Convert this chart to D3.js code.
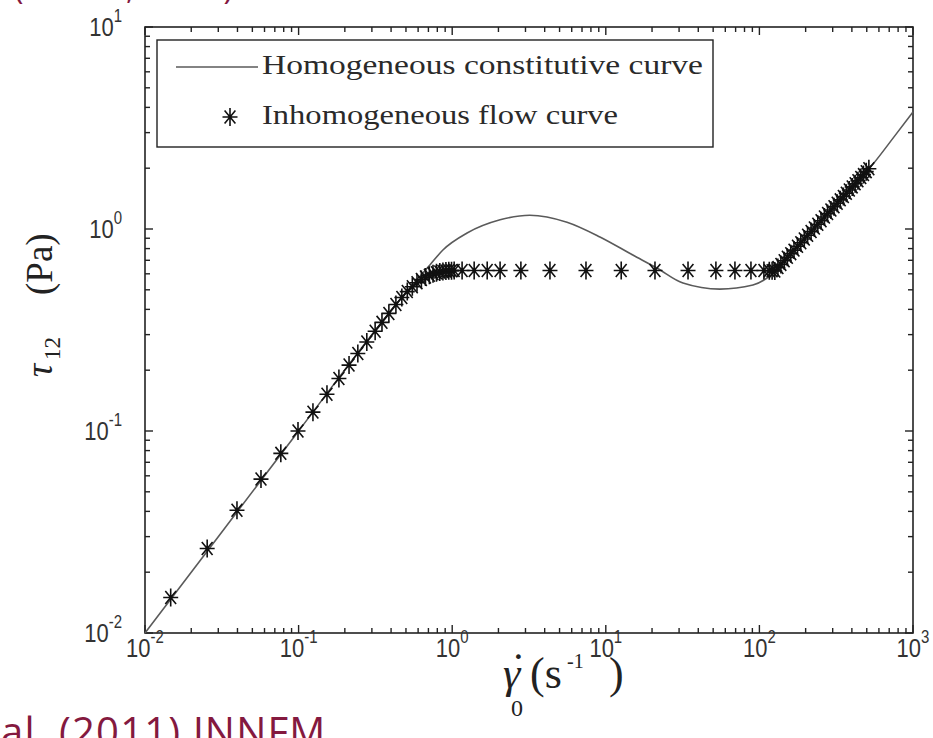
<!DOCTYPE html>
<html>
<head>
<meta charset="utf-8">
<script src="https://cdn.jsdelivr.net/npm/d3@7"></script>
<style>
  body { margin: 0; background: #fff; }
  svg { display: block; }
</style>
</head>
<body>
<svg id="chart" width="933" height="738"></svg>
<script>
// ---- data -------------------------------------------------------------
const xExponents = [-2, -1, 0, 1, 2, 3];
const yExponents = [-2, -1, 0, 1];

// homogeneous constitutive curve (shear rate, shear stress)
const curveRate   = [0.01, 0.1, 0.3, 0.4, 0.5, 0.716, 0.87, 1.25, 2.05, 3.2, 5.59, 9.16, 15.0, 21.5, 31.8, 55.3, 90.8, 122.7, 150, 200, 300, 400, 550, 750, 1000];
const curveStress = [0.01, 0.1, 0.3, 0.395, 0.485, 0.664, 0.787, 0.955, 1.11, 1.17, 1.08, 0.913, 0.743, 0.641, 0.54, 0.504, 0.528, 0.605, 0.715, 0.905, 1.27, 1.61, 2.10, 2.85, 3.8];

// inhomogeneous (banded) flow curve
const flowRate = [
  0.0147, 0.0254, 0.0397, 0.0569, 0.0766, 0.0991, 0.124, 0.153, 0.183, 0.213,
  0.243, 0.278, 0.315, 0.349, 0.387, 0.43, 0.47, 0.51, 0.55, 0.59,
  0.63, 0.67, 0.71, 0.75, 0.79, 0.83, 0.87, 0.91, 0.95, 0.99,
  1.03, 1.16, 1.39, 1.69, 2.05, 2.8, 4.33, 7.43, 12.6, 20.9,
  34.3, 52.1, 69.3, 88.1, 107, 116, 121,
  126, 132, 138, 145, 152, 160, 168, 177, 186, 196,
  206, 217, 228, 240, 252, 265, 278, 292, 306, 321,
  336, 352, 368, 385, 402, 420, 438, 457, 476, 496, 516
];
const flowStress = [
  0.0150, 0.0262, 0.0405, 0.0578, 0.0775, 0.100, 0.124, 0.152, 0.182, 0.212,
  0.242, 0.276, 0.312, 0.345, 0.382, 0.423, 0.458, 0.490, 0.518, 0.542,
  0.562, 0.578, 0.590, 0.600, 0.607, 0.612, 0.616, 0.619, 0.621, 0.622,
  0.623, 0.623, 0.623, 0.623, 0.623, 0.623, 0.623, 0.623, 0.623, 0.623,
  0.623, 0.623, 0.623, 0.623, 0.623, 0.622, 0.621,
  0.620, 0.644, 0.668, 0.696, 0.724, 0.755, 0.786, 0.821, 0.855, 0.893,
  0.931, 0.971, 1.012, 1.056, 1.099, 1.146, 1.192, 1.241, 1.290, 1.342,
  1.394, 1.448, 1.503, 1.560, 1.616, 1.676, 1.735, 1.797, 1.859, 1.923, 1.987
];

const legendLabels = ["Homogeneous constitutive curve", "Inhomogeneous flow curve"];
const citationTop = ["(Adams,", " 2011)"];
const citationBottom = "Adams et al. (2011) JNNFM";

// ---- layout -----------------------------------------------------------
const svg = d3.select("#chart");
const plotL = 145, plotR = 913, plotT = 27, plotB = 633;
const stretch = 1.2;               // tick digits are drawn taller than wide
const ink = "#222";

const x = d3.scaleLog().domain([1e-2, 1e3]).range([plotL, plotR]);
const y = d3.scaleLog().domain([1e-2, 1e1]).range([plotB, plotT]);

// minor + major tick values
function logTicks(lo, hi) {
  const out = [];
  for (let e = lo; e < hi; e++)
    for (let m = 1; m <= 9; m++) out.push({ v: m * Math.pow(10, e), major: m === 1 });
  out.push({ v: Math.pow(10, hi), major: true });
  return out;
}
const xt = logTicks(-2, 3), yt = logTicks(-2, 1);

const axes = svg.append("g").attr("stroke", ink).attr("stroke-width", 1.4);
const majL = 8, minL = 5;
xt.forEach(t => {
  const px = x(t.v), L = t.major ? majL : minL;
  axes.append("line").attr("x1", px).attr("x2", px).attr("y1", plotB).attr("y2", plotB - L);
  axes.append("line").attr("x1", px).attr("x2", px).attr("y1", plotT).attr("y2", plotT + L);
});
yt.forEach(t => {
  const py = y(t.v), L = t.major ? majL : minL;
  axes.append("line").attr("y1", py).attr("y2", py).attr("x1", plotL).attr("x2", plotL + L);
  axes.append("line").attr("y1", py).attr("y2", py).attr("x1", plotR).attr("x2", plotR - L);
});
axes.append("rect").attr("x", plotL).attr("y", plotT).attr("width", plotR - plotL).attr("height", plotB - plotT)
  .attr("fill", "none").attr("stroke-width", 1.6);

// tick labels: 10 with raised exponent
const tickFont = "'Liberation Sans', Arial, sans-serif";
function powerLabel(g, exp, anchor) {
  const t = g.append("text").attr("font-family", tickFont).attr("fill", "#333")
    .attr("text-anchor", anchor).attr("font-size", 22);
  t.append("tspan").text("10");
  t.append("tspan").attr("font-size", 15).attr("dy", -12).text(exp < 0 ? "-" + (-exp) : String(exp));
  return t;
}
xExponents.forEach(e => {
  const g = svg.append("g").attr("transform", `translate(${x(Math.pow(10, e))},${657}) scale(1,${stretch})`);
  powerLabel(g, e, "middle");
});
yExponents.forEach(e => {
  const g = svg.append("g").attr("transform", `translate(${122},${y(Math.pow(10, e)) + 9}) scale(1,${stretch})`);
  powerLabel(g, e, "end");
});

// axis titles (serif, with sub/superscripts placed explicitly)
const serif = "'Liberation Serif', 'Times New Roman', serif";
const yl = svg.append("g").attr("transform", "translate(52,0) rotate(-90)")
  .append("text").attr("font-family", serif).attr("font-size", 37).attr("fill", ink);
yl.append("tspan").attr("x", -377).attr("y", 0).attr("font-style", "italic").text("\u03C4");
yl.append("tspan").attr("x", -360).attr("y", 8).attr("font-size", 23).text("12");
yl.append("tspan").attr("x", -295).attr("y", 0).text("(Pa)");

const xl = svg.append("text").attr("font-family", serif).attr("font-size", 44).attr("fill", ink);
xl.append("tspan").attr("x", 503).attr("y", 688).attr("font-style", "italic").text("\u03B3");
xl.append("tspan").attr("x", 511).attr("y", 684).text("\u02D9");
xl.append("tspan").attr("x", 511).attr("y", 716).attr("font-size", 24).text("0");
xl.append("tspan").attr("x", 530).attr("y", 688).text("(s");
xl.append("tspan").attr("x", 567).attr("y", 668).attr("font-size", 20).text("-1");
xl.append("tspan").attr("x", 609).attr("y", 688).text(")");

// ---- marks ------------------------------------------------------------
const plot = svg.append("g");
const curveData = curveRate.map((r, i) => [r, curveStress[i]]);
const line = d3.line().x(d => x(d[0])).y(d => y(d[1])).curve(d3.curveMonotoneX);
plot.append("path").datum(curveData).attr("d", line)
  .attr("fill", "none").attr("stroke", "#5a5a5a").attr("stroke-width", 1.6);

const rx = 7.5, ry = 9, ax = rx * 0.72, ay = ry * 0.72;
const starPath = `M${-rx},0L${rx},0M0,${-ry}L0,${ry}M${-ax},${-ay}L${ax},${ay}M${-ax},${ay}L${ax},${-ay}`;
const flowData = flowRate.map((r, i) => [r, flowStress[i]]);
plot.selectAll("path.star").data(flowData).join("path").attr("class", "star")
  .attr("transform", d => `translate(${x(d[0])},${y(d[1])})`)
  .attr("d", starPath).attr("fill", "none").attr("stroke", "#111").attr("stroke-width", 1.6);

// ---- legend -----------------------------------------------------------
const lg = svg.append("g");
lg.append("rect").attr("x", 157).attr("y", 40).attr("width", 556).attr("height", 107)
  .attr("fill", "#fff").attr("stroke", ink).attr("stroke-width", 1.4);
lg.append("line").attr("x1", 176).attr("x2", 258).attr("y1", 67).attr("y2", 67)
  .attr("stroke", "#5a5a5a").attr("stroke-width", 1.6);
lg.append("path").attr("transform", "translate(230,117)").attr("d", starPath)
  .attr("fill", "none").attr("stroke", "#111").attr("stroke-width", 1.6);
const legendY = [74, 124], legendW = [441, 356];
legendLabels.forEach((s, i) => {
  lg.append("g").attr("transform", `translate(262,${legendY[i]}) scale(1,1.22)`)
    .append("text").attr("font-family", serif).attr("font-size", 22).attr("fill", "#2a2a2a")
    .attr("textLength", legendW[i]).attr("lengthAdjust", "spacingAndGlyphs").text(s);
});

// ---- slide citations (partly outside the frame) -------------------------
const maroon = "#84193f";
const sans = "'Open Sans', 'Noto Sans', sans-serif";
const ct = svg.append("text").attr("y", -1).attr("font-family", sans)
  .attr("font-size", 32).attr("fill", maroon);
ct.append("tspan").attr("x", 14).text(citationTop[0]);
ct.append("tspan").attr("x", 233).attr("text-anchor", "end").text(citationTop[1]);

const cb = svg.append("text").attr("x", 0).attr("y", 746).attr("font-family", sans)
  .attr("font-size", 40).attr("letter-spacing", 1.2).attr("fill", maroon).text(citationBottom);
const lead = cb.node().getSubStringLength(0, citationBottom.indexOf("al."));
cb.attr("x", -lead + 1);
</script>
</body>
</html>
